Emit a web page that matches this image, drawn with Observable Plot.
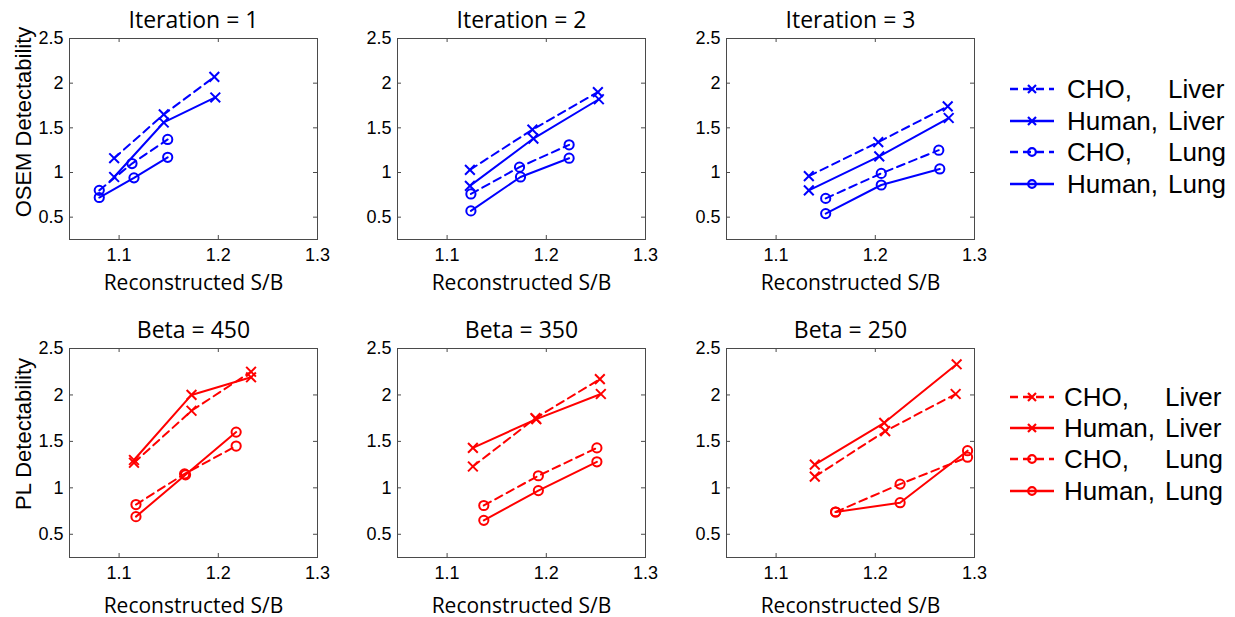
<!DOCTYPE html>
<html><head><meta charset="utf-8">
<script src="https://cdn.jsdelivr.net/npm/d3@7"></script>
<script src="https://cdn.jsdelivr.net/npm/@observablehq/plot@0.6"></script>
<style>
body{margin:0;background:#fff;}
#root{position:relative;width:1235px;height:617px;overflow:hidden;background:#fff}
.panel{position:absolute}
.legend{position:absolute;font-family:"Liberation Sans",Arial,sans-serif;font-size:26px;color:#000}
.lrow{position:absolute;left:0;height:32px;display:flex;align-items:center;white-space:nowrap}
.lrow svg{flex:none}
.c1{display:inline-block;width:101px}
</style></head><body>
<div id="root"></div>
<script>
// ---- data ----
const seriesNames = ["CHO, Liver", "Human, Liver", "CHO, Lung", "Human, Lung"];
const observers = ["CHO", "Human", "CHO", "Human"];
const organs = ["Liver", "Liver", "Lung", "Lung"];
const xTicks = [1.1, 1.2, 1.3];
const yTicks = [0.5, 1, 1.5, 2, 2.5];
const osemTitles = ["Iteration = 1", "Iteration = 2", "Iteration = 3"];
const plTitles = ["Beta = 450", "Beta = 350", "Beta = 250"];

// OSEM (series order: CHO Liver, Human Liver, CHO Lung, Human Lung)
const osemIt1X = [[1.095, 1.145, 1.196], [1.095, 1.145, 1.197], [1.080, 1.113, 1.149], [1.080, 1.115, 1.149]];
const osemIt1Y = [[1.16, 1.65, 2.07], [0.95, 1.56, 1.84], [0.80, 1.10, 1.37], [0.72, 0.94, 1.17]];
const osemIt2X = [[1.123, 1.186, 1.252], [1.123, 1.187, 1.253], [1.124, 1.173, 1.223], [1.124, 1.174, 1.223]];
const osemIt2Y = [[1.03, 1.48, 1.90], [0.85, 1.38, 1.82], [0.76, 1.06, 1.31], [0.57, 0.95, 1.16]];
const osemIt3X = [[1.133, 1.203, 1.273], [1.133, 1.204, 1.274], [1.150, 1.206, 1.264], [1.150, 1.206, 1.265]];
const osemIt3Y = [[0.96, 1.34, 1.74], [0.80, 1.18, 1.61], [0.71, 0.99, 1.25], [0.54, 0.86, 1.04]];

// PL
const plB450X = [[1.115, 1.173, 1.233], [1.115, 1.173, 1.233], [1.117, 1.166, 1.218], [1.117, 1.167, 1.218]];
const plB450Y = [[1.27, 1.83, 2.25], [1.30, 2.00, 2.19], [0.82, 1.15, 1.45], [0.69, 1.14, 1.60]];
const plB350X = [[1.126, 1.189, 1.254], [1.126, 1.190, 1.255], [1.137, 1.192, 1.251], [1.137, 1.192, 1.251]];
const plB350Y = [[1.23, 1.75, 2.17], [1.43, 1.74, 2.01], [0.81, 1.13, 1.43], [0.65, 0.97, 1.28]];
const plB250X = [[1.139, 1.210, 1.281], [1.139, 1.209, 1.282], [1.160, 1.225, 1.293], [1.160, 1.225, 1.293]];
const plB250Y = [[1.12, 1.61, 2.01], [1.25, 1.70, 2.33], [0.74, 1.04, 1.33], [0.74, 0.84, 1.40]];

const BLUE = "#0000ff", RED = "#ff0000";
const AXIS = "#4a4a4a";

function rowsOf(xs, ys) {
  const out = [];
  xs.forEach((sx, i) => sx.forEach((x, j) => out.push({s: seriesNames[i], obs: observers[i], organ: organs[i], x, y: ys[i][j]})));
  return out;
}

function makePanel({title, xs, ys, color, yLabel, frameH, xLabDy, yLabDy}) {
  const mL = 69, mR = 16, mT = 38, mB = 66, frameW = 248;
  const data = rowsOf(xs, ys);
  const cho = data.filter(d => d.obs === "CHO");
  const hum = data.filter(d => d.obs === "Human");
  const marks = [
    Plot.tickX(xTicks, {x: d => d, insetTop: frameH - 4, stroke: AXIS}),
    Plot.tickX(xTicks, {x: d => d, insetBottom: frameH - 4, stroke: AXIS}),
    Plot.tickY(yTicks, {y: d => d, insetRight: frameW - 4, stroke: AXIS}),
    Plot.tickY(yTicks, {y: d => d, insetLeft: frameW - 4, stroke: AXIS}),
    Plot.axisX({ticks: xTicks, tickSize: 0, tickPadding: 9, tickFormat: d => String(d), label: null}),
    Plot.axisY({ticks: yTicks, tickSize: 0, tickPadding: 6, tickFormat: d => String(d), label: null}),
    Plot.line(cho, {x: "x", y: "y", z: "s", stroke: color, strokeWidth: 2, strokeDasharray: "8,5"}),
    Plot.line(hum, {x: "x", y: "y", z: "s", stroke: color, strokeWidth: 2}),
    Plot.dot(data.filter(d => d.organ === "Liver"), {x: "x", y: "y", symbol: "times", r: 4.5, stroke: color, strokeWidth: 2}),
    Plot.dot(data.filter(d => d.organ === "Lung"), {x: "x", y: "y", symbol: "circle", r: 4.6, stroke: color, strokeWidth: 2, fill: "none"}),
    Plot.frame({stroke: AXIS}),
    Plot.text([title], {frameAnchor: "top", lineAnchor: "bottom", dy: -11, fontFamily: "'Open Sans'", fontSize: 23, fill: "#000"}),
    Plot.text(["Reconstructed S/B"], {frameAnchor: "bottom", lineAnchor: "bottom", dy: xLabDy, fontFamily: "'Open Sans'", fontSize: 21, fill: "#000"})
  ];
  if (yLabel) marks.push(Plot.text([yLabel], {frameAnchor: "left", textAnchor: "middle", lineAnchor: "middle", rotate: -90, dx: -46, dy: yLabDy, fontSize: 22, fill: "#000"}));
  return Plot.plot({
    width: mL + frameW + mR,
    height: mT + frameH + mB,
    marginLeft: mL, marginRight: mR, marginTop: mT, marginBottom: mB,
    x: {domain: [1.05, 1.3]},
    y: {domain: [0.25, 2.5]},
    style: {fontFamily: "'Liberation Sans', Arial, sans-serif", fontSize: "18px", color: "#000", background: "transparent", overflow: "visible"},
    marks
  });
}

const root = document.getElementById("root");
function place(el, left, top) {
  const d = document.createElement("div");
  d.className = "panel"; d.style.left = left + "px"; d.style.top = top + "px";
  d.appendChild(el); root.appendChild(d);
}

const lefts = [0, 328, 657];
const osemX = [osemIt1X, osemIt2X, osemIt3X], osemY = [osemIt1Y, osemIt2Y, osemIt3Y];
const plX = [plB450X, plB350X, plB250X], plY = [plB450Y, plB350Y, plB250Y];
for (let k = 0; k < 3; k++) {
  place(makePanel({title: osemTitles[k], xs: osemX[k], ys: osemY[k], color: BLUE, yLabel: k === 0 ? "OSEM Detectability" : null, frameH: 201, xLabDy: 50, yLabDy: -17}), lefts[k], 0);
  place(makePanel({title: plTitles[k], xs: plX[k], ys: plY[k], color: RED, yLabel: k === 0 ? "PL Detectability" : null, frameH: 209, xLabDy: 55, yLabDy: -19}), lefts[k], 310);
}

// ---- legends ----
function legend(color, left, rowCenters, gap) {
  const L = document.createElement("div");
  L.className = "legend"; L.style.left = left + "px"; L.style.top = "0px";
  seriesNames.forEach((name, i) => {
    const r = document.createElement("div");
    r.className = "lrow"; r.style.top = (rowCenters[i] - 16) + "px";
    const dashed = observers[i] === "CHO";
    const sym = organs[i] === "Liver"
      ? `<path d="M18,6 L26,14 M26,6 L18,14" stroke="${color}" stroke-width="2.2" fill="none"/>`
      : `<circle cx="22" cy="10" r="3.8" stroke="${color}" stroke-width="2.2" fill="none"/>`;
    r.innerHTML = `<svg width="44" height="20"><line x1="0" y1="10" x2="44" y2="10" stroke="${color}" stroke-width="2.4" ${dashed ? 'stroke-dasharray="8,5"' : ''}/>${sym}</svg>` +
      `<span style="margin-left:${gap}px"><span class="c1">${observers[i]},</span>${organs[i]}</span>`;
    L.appendChild(r);
  });
  root.appendChild(L);
}
legend(BLUE, 1010, [89, 121, 152, 184], 13);
legend(RED, 1010, [397, 428, 459, 491], 10);
</script>
</body></html>
